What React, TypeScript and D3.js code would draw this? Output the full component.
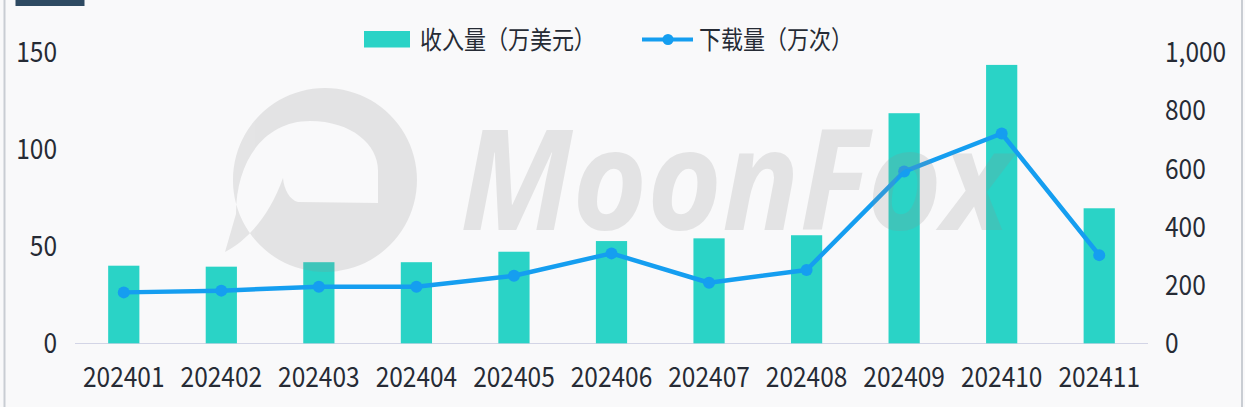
import React from "react";
import * as d3 from "d3";

const categories = ["202401","202402","202403","202404","202405","202406","202407","202408","202409","202410","202411"];
const revenue = [40, 39.5, 41.8, 41.8, 47.2, 52.7, 54.1, 55.7, 118.6, 143.5, 69.6];
const downloads = [175, 181, 194, 194, 232, 309, 208, 252, 590, 721, 303];
const leftTicks = [0, 50, 100, 150];
const rightTicks = [0, 200, 400, 600, 800, 1000];
const revenueLabel = "收入量（万美元）";
const downloadLabel = "下载量（万次）";
const watermarkText = "MoonFox";

const BAR = "#2ad3c6";
const LINE = "#159ef0";
const TEXT = "#262b35";
const FONT = "'Noto Sans CJK SC', 'Noto Sans', sans-serif";
const SY = 1.15;

function T(props: { x: number; y: number; anchor?: string; size: number; children: React.ReactNode }) {
  return (
    <text
      transform={`translate(${props.x},${props.y}) scale(1,${SY})`}
      textAnchor={props.anchor || "start"}
      fontSize={props.size}
      fill={TEXT}
    >
      {props.children}
    </text>
  );
}

export default function App() {
  const W = 1245, H = 407;
  const x = d3.scaleBand<string>().domain(categories).range([75, 1148]).paddingInner(0.68).paddingOuter(0.34);
  const yL = d3.scaleLinear().domain([0, 150]).range([343.3, 52.3]);
  const yR = d3.scaleLinear().domain([0, 1000]).range([343.3, 52.3]);
  const cx = (c: string) => (x(c) as number) + x.bandwidth() / 2;
  const line = d3.line<number>().x((_, i) => cx(categories[i])).y((d) => yR(d));
  const fmt = d3.format(",");

  return (
    <svg width={W} height={H} style={{ position: "absolute", left: 0, top: 0, fontFamily: FONT }}>
      <rect x={0} y={0} width={W} height={H} fill="#f9f9fa" />
      <rect x={3.5} y={0} width={2} height={H} fill="#c9cdd3" />
      <rect x={1241} y={0} width={2} height={H} fill="#c9cdd3" />
      <rect x={15.5} y={0} width={69} height={6} fill="#2e4a62" />

      {/* baseline */}
      <line x1={75} x2={1148} y1={343.5} y2={343.5} stroke="#d3d5e6" strokeWidth={1.2} />

      {/* bars */}
      {categories.map((c, i) => (
        <rect key={c} x={x(c)} y={yL(revenue[i])} width={x.bandwidth()} height={yL(0) - yL(revenue[i])} fill={BAR} />
      ))}

      {/* line */}
      <path d={line(downloads) as string} fill="none" stroke={LINE} strokeWidth={4.5} strokeLinejoin="round" />
      {downloads.map((d, i) => (
        <circle key={i} cx={cx(categories[i])} cy={yR(d)} r={6} fill={LINE} />
      ))}

      {/* left ticks */}
      {leftTicks.map((t) => (
        <T key={t} x={57} y={yL(t) + 9.8} anchor="end" size={24.5}>{t}</T>
      ))}
      {/* right ticks */}
      {rightTicks.map((t) => (
        <T key={t} x={1165} y={yR(t) + 9.8} size={24.5}>{fmt(t)}</T>
      ))}
      {/* x labels */}
      {categories.map((c) => (
        <T key={c} x={cx(c)} y={386.7} anchor="middle" size={24.5}>{c}</T>
      ))}

      {/* legend */}
      <rect x={364} y={31} width={46} height={16.5} fill={BAR} />
      <T x={420} y={48.5} size={22}>{revenueLabel}</T>
      <line x1={642} x2={693} y1={39.5} y2={39.5} stroke={LINE} strokeWidth={4} />
      <circle cx={668} cy={39.5} r={5.5} fill={LINE} />
      <T x={699} y={48.5} size={22}>{downloadLabel}</T>

      {/* watermark */}
      <g opacity={0.2} fill="#8f8f8f">
        <path
          fillRule="evenodd"
          d={
            "M325,88 A92,92 0 1 1 324.9,88 Z " +
            "M236,214 C236,160 265,121 310,121 C352,121 378,145 378,170 L378,203 L298,202 C290,200 284,190 283,178 C270,215 248,240 225,252 Z"
          }
        />
        <text x={460} y={230} fontSize={140} fontWeight={700} fontStyle="italic" fontFamily="'Open Sans', sans-serif" textLength={550} lengthAdjust="spacingAndGlyphs">
          {watermarkText}
        </text>
      </g>
    </svg>
  );
}
